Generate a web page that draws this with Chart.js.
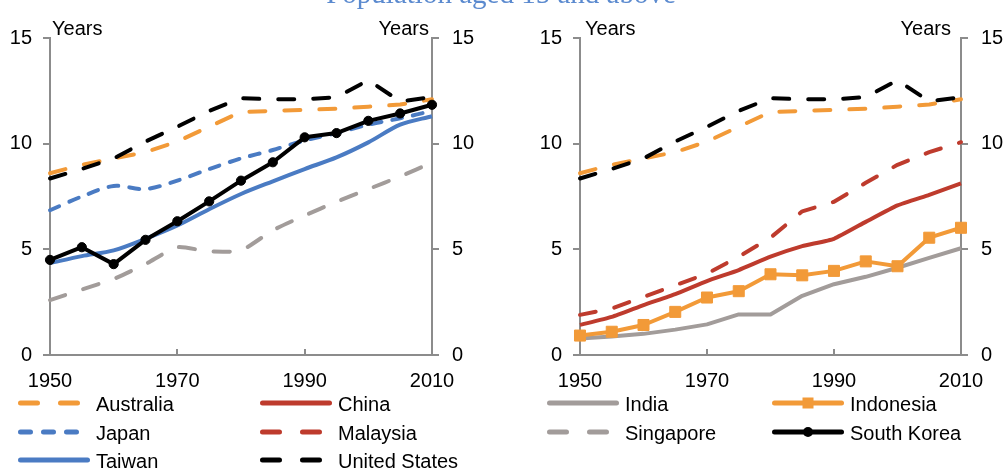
<!DOCTYPE html>
<html><head><meta charset="utf-8">
<script src="https://cdn.jsdelivr.net/npm/chart.js@4"></script>
<style>
html,body{margin:0;padding:0;background:#fff;}
#wrap{position:relative;width:1003px;height:469px;overflow:hidden;}
.cv{position:absolute;}
#ov{position:absolute;left:0;top:0;pointer-events:none;}
</style></head><body>
<div id="wrap">
<div class="cv" style="left:0;top:13px;width:500px;height:382px"><canvas id="c1"></canvas></div>
<div class="cv" style="left:500px;top:13px;width:503px;height:382px"><canvas id="c2"></canvas></div>
<svg id="ov" width="1003" height="469" xmlns="http://www.w3.org/2000/svg"></svg>
</div>
<script>
// ---- data ----
const title = "Population aged 15 and above";
const axisTitle = "Years";
const years = [1950,1955,1960,1965,1970,1975,1980,1985,1990,1995,2000,2005,2010];
const xTicks = [1950,1970,1990,2010];
const yTicks = [0,5,10,15];
const australia    = [8.6, 9.0, 9.3, 9.6, 10.1, 10.8, 11.5, 11.55, 11.6, 11.65, 11.75, 11.85, 12.1];
const unitedStates = [8.35, 8.8, 9.3, 10.1, 10.8, 11.55, 12.15, 12.1, 12.1, 12.2, 13.0, 12.0, 12.2];
const japan        = [6.85, 7.5, 8.0, 7.85, 8.25, 8.8, 9.3, 9.7, 10.15, 10.5, 10.9, 11.2, 11.55];
const taiwan       = [4.35, 4.68, 4.95, 5.5, 6.13, 6.9, 7.62, 8.22, 8.8, 9.35, 10.06, 10.9, 11.3];
const southKorea   = [4.5, 5.1, 4.3, 5.45, 6.33, 7.27, 8.25, 9.12, 10.3, 10.5, 11.08, 11.43, 11.84];
const singapore    = [2.6, 3.1, 3.6, 4.3, 5.1, 4.9, 4.95, 5.9, 6.6, 7.25, 7.85, 8.45, 9.1];
const china        = [1.42, 1.8, 2.36, 2.88, 3.5, 4.02, 4.65, 5.15, 5.5, 6.3, 7.08, 7.58, 8.12];
const malaysia     = [1.9, 2.2, 2.75, 3.3, 3.85, 4.65, 5.55, 6.8, 7.25, 8.15, 9.0, 9.6, 10.07];
const indonesia    = [0.92, 1.1, 1.42, 2.04, 2.72, 3.02, 3.82, 3.77, 3.98, 4.43, 4.2, 5.55, 6.02];
const india        = [0.78, 0.88, 1.0, 1.2, 1.45, 1.92, 1.92, 2.8, 3.35, 3.7, 4.13, 4.6, 5.05];

const seriesNames = ["Australia","Japan","Taiwan","China","Malaysia","United States","India","Singapore","Indonesia","South Korea"];
const seriesData = {
  "Australia": australia, "Japan": japan, "Taiwan": taiwan, "China": china,
  "Malaysia": malaysia, "United States": unitedStates, "India": india,
  "Singapore": singapore, "Indonesia": indonesia, "South Korea": southKorea
};
const leftPanel  = ["South Korea","Taiwan","Japan","United States","Australia","Singapore"];
const rightPanel = ["United States","Australia","Malaysia","China","Indonesia","India"];

// ---- styles ----
const ORANGE = '#F29A38', BLUE = '#4A7BC3', RED = '#BE3B2D', GRAY = '#A29C9A', BLACK = '#000000';
const AXIS = '#8C8C8C';
const LONG = [16, 19], SHORT = [10, 11];
const styles = {
  "Australia":     {color: ORANGE, dash: LONG},
  "Japan":         {color: BLUE, dash: SHORT, tension: 0.3},
  "Taiwan":        {color: BLUE, dash: [], tension: 0.3},
  "China":         {color: RED, dash: [], tension: 0.15},
  "Malaysia":      {color: RED, dash: LONG},
  "United States": {color: BLACK, dash: LONG},
  "India":         {color: GRAY, dash: []},
  "Singapore":     {color: GRAY, dash: LONG, tension: 0.2},
  "Indonesia":     {color: ORANGE, dash: [], marker: 'rect'},
  "South Korea":   {color: BLACK, dash: [], marker: 'circle'}
};
const FONT = "'Liberation Sans', Arial, sans-serif";

function makeDataset(name) {
  const st = styles[name];
  const d = seriesData[name];
  return {
    label: name,
    data: years.map((y, i) => ({x: y, y: d[i]})),
    borderColor: st.color,
    backgroundColor: st.color,
    borderWidth: 4,
    borderDash: st.dash,
    borderCapStyle: st.dash.length ? 'round' : 'butt',
    borderJoinStyle: 'round',
    tension: st.tension || 0,
    pointStyle: st.marker || 'circle',
    pointRadius: st.marker === 'rect' ? 7.8 : (st.marker === 'circle' ? 4.6 : 0),
    pointBorderWidth: 1,
    pointBorderColor: st.color,
    pointBackgroundColor: st.color,
    clip: false
  };
}

const innerTicks = {
  id: 'innerTicks',
  afterDraw(chart) {
    const ctx = chart.ctx, xs = chart.scales.x, bottom = chart.chartArea.bottom;
    ctx.save();
    ctx.strokeStyle = AXIS; ctx.lineWidth = 2;
    [1970, 1990].forEach(v => {
      const px = Math.round(xs.getPixelForValue(v));
      ctx.beginPath(); ctx.moveTo(px, bottom); ctx.lineTo(px, bottom - 6); ctx.stroke();
    });
    ctx.restore();
  }
};

function makeChart(id, names, leftW, rightW) {
  const yCommon = (pos, w, pad) => ({
    type: 'linear', position: pos, min: 0, max: 15,
    afterBuildTicks: s => { s.ticks = yTicks.map(v => ({value: v})); },
    ticks: {color: '#000', font: {family: FONT, size: 20}, padding: pad},
    grid: {drawOnChartArea: false, drawTicks: true, tickLength: 7, color: AXIS, lineWidth: 2},
    border: {display: true, color: AXIS, width: 2},
    afterFit: s => { s.width = w; }
  });
  return new Chart(document.getElementById(id), {
    type: 'line',
    data: {datasets: names.map(makeDataset)},
    options: {
      responsive: true, maintainAspectRatio: false, animation: false, devicePixelRatio: 1,
      layout: {padding: {top: 17, left: 0, right: 0, bottom: 0}},
      plugins: {legend: {display: false}, tooltip: {enabled: false}},
      scales: {
        x: {
          type: 'linear', min: 1950, max: 2010,
          afterBuildTicks: s => { s.ticks = xTicks.map(v => ({value: v})); },
          ticks: {color: '#000', font: {family: FONT, size: 20}, padding: 14, maxRotation: 0, autoSkip: false,
                  callback: v => String(v)},
          grid: {drawOnChartArea: false, drawTicks: false},
          border: {display: true, color: AXIS, width: 2},
          afterFit: s => { s.height = 40; }
        },
        y: yCommon('left', leftW, 11),
        y2: yCommon('right', rightW, 13)
      }
    },
    plugins: [innerTicks]
  });
}

makeChart('c1', leftPanel, 50, 68);
makeChart('c2', rightPanel, 80, 42);

// ---- overlay text: title, axis titles, legend ----
const NS = 'http://www.w3.org/2000/svg';
const ov = document.getElementById('ov');
function el(tag, attrs, text) {
  const e = document.createElementNS(NS, tag);
  for (const k in attrs) e.setAttribute(k, attrs[k]);
  if (text !== undefined) e.textContent = text;
  ov.appendChild(e);
  return e;
}
el('text', {x: 501, y: 3, 'text-anchor': 'middle', 'font-family': "'Liberation Serif', serif", 'font-size': 29, fill: '#5B8ACF'}, title);
[[52, 'start'], [429, 'end'], [585, 'start'], [951, 'end']].forEach(([x, a]) => {
  el('text', {x: x, y: 35, 'text-anchor': a, 'font-family': FONT, 'font-size': 20, fill: '#000'}, axisTitle);
});

const legendCols = [18, 260, 547, 772];
const legendRows = [403, 432, 460];
const legendLayout = [["Australia","Japan","Taiwan"],["China","Malaysia","United States"],["India","Singapore"],["Indonesia","South Korea"]];
legendLayout.forEach((col, ci) => {
  col.forEach((name, ri) => {
    const st = styles[name];
    const x0 = legendCols[ci], y = legendRows[ri];
    const dashed = st.dash.length > 0;
    const attrs = {x1: x0 + 2.5, y1: y, x2: x0 + 70, y2: y, stroke: st.color, 'stroke-width': 5, 'stroke-linecap': 'round'};
    if (dashed) attrs['stroke-dasharray'] = (st.dash === SHORT) ? '10 13' : '17 23';
    if (!dashed) { attrs.x1 = x0 + 2.5; attrs.x2 = x0 + 69.5; }
    el('line', attrs);
    if (st.marker === 'rect') el('rect', {x: x0 + 36 - 5.5, y: y - 5.5, width: 11, height: 11, fill: st.color});
    if (st.marker === 'circle') el('circle', {cx: x0 + 36, cy: y, r: 5, fill: st.color});
    el('text', {x: x0 + 78, y: y + 7.5, 'font-family': FONT, 'font-size': 20, fill: '#000'}, name);
  });
});
</script>
</body></html>
